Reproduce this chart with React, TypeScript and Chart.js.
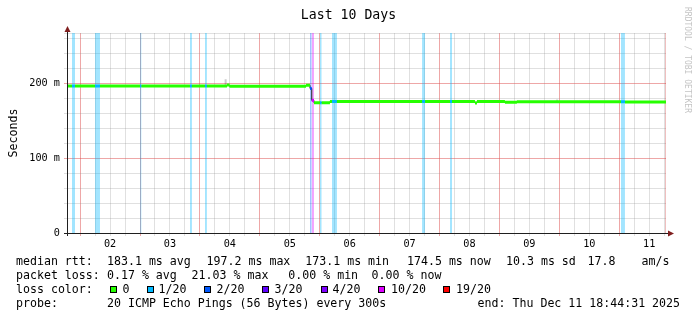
import React, { useEffect, useRef } from "react";
import { Chart, registerables } from "chart.js";

Chart.register(...registerables);

const FONT = "'DejaVu Sans Mono', monospace";

// ---- data -------------------------------------------------------------
// time axis: hours since Mon Dec 1 2025 00:00
const startHour = 18.742; // Dec 1 18:44:31
const endHour = 258.742; // Dec 11 18:44:31
const yMax = 266.67; // ms

const chartTitle = "Last 10 Days";
const yTitle = "Seconds";
const dayLabels = ["02", "03", "04", "05", "06", "07", "08", "09", "10", "11"];
const yLabelValues = [0, 100, 200];
const yLabels = ["0", "100 m", "200 m"];

// median rtt step series: segment start (hours), median (ms), lost pings of 20
const segStart = [
  18.742, 20.74, 21.95, 29.96, 31.96, 48.0, 48.6, 68.0, 68.8, 74.0, 74.8, 82.84,
  83.84, 114.5, 116.1, 116.8, 117.7, 120.1, 120.8, 124.1, 124.9, 126.9, 161.0,
  162.2, 172.2, 173.0, 182.2, 183.0, 194.2, 199.0, 240.7, 242.3,
];
const segMedian = [
  196.0, 196.0, 196.0, 196.0, 196.0, 196.0, 196.0, 196.0, 196.0, 196.0, 196.0,
  197.2, 195.8, 197.0, 192.8, 176.8, 173.8, 173.8, 173.8, 175.2, 175.2, 175.2,
  175.2, 175.2, 175.2, 175.2, 173.4, 175.2, 174.4, 175.1, 175.1, 174.8,
];
const segLoss = [
  0, 1, 0, 1, 0, 1, 0, 1, 0, 1, 0, 0, 0, 0, 2, 10, 0, 1, 0, 0, 1, 0, 1, 0, 1, 0,
  0, 0, 0, 0, 1, 0,
];

// smoke (ping spread) marks
const smokeHour = [82.3, 215.1];
const smokeLow = [196.0, 175.0];
const smokeHigh = [205.0, 177.9];

const lossLevels = [0, 1, 2, 3, 4, 10, 19];
const lossLabels = ["0", "1/20", "2/20", "3/20", "4/20", "10/20", "19/20"];
const lossColors = ["#26ff00", "#00b8ff", "#0059ff", "#5e00ff", "#7e00ff", "#dd00ff", "#ff0000"];

const rttTexts = ["median rtt:", "183.1 ms avg", "197.2 ms max", "173.1 ms min", "174.5 ms now", "10.3 ms sd", "17.8", "am/s"];
const lossTexts = ["packet loss:", "0.17 % avg", "21.03 % max", "0.00 % min", "0.00 % now"];
const probeTexts = ["probe:", "20 ICMP Echo Pings (56 Bytes) every 300s", "end: Thu Dec 11 18:44:31 2025"];
const lossColorTitle = "loss color:";
const watermark = "RRDTOOL / TOBI OETIKER";

// ---- layout (pixels) ---------------------------------------------------
const rttX = [16.7, 107.7, 207.3, 306, 407.7, 506.7, 588.3, 642.3];
const lossX = [16.7, 107.7, 192.3, 289, 372.3];
const probeX = [16.7, 107.7, 478.3];
const swatchX = [110, 146.7, 204.3, 262.3, 320.7, 378.3, 443.3];
const swatchTextX = [123.3, 159.3, 217.3, 275.3, 333.3, 391.7, 456.7];

const GREY = "rgba(143,143,143,0.28)";
const RED = "rgba(222,79,79,0.5)";

function rgba(hex: string, a: number) {
  const n = parseInt(hex.slice(1), 16);
  return `rgba(${(n >> 16) & 255},${(n >> 8) & 255},${n & 255},${a})`;
}

function segEnd(i: number) {
  return i + 1 < segStart.length ? segStart[i + 1] : endHour;
}

function buildDatasets() {
  const ds: any[] = [];
  // loss background stripes
  lossLevels.forEach((lvl, li) => {
    if (lvl === 0) return;
    const pts: any[] = [];
    segStart.forEach((s, i) => {
      if (segLoss[i] !== lvl) return;
      pts.push({ x: s, y: yMax }, { x: segEnd(i), y: yMax }, { x: segEnd(i), y: null });
    });
    if (!pts.length) return;
    ds.push({
      data: pts,
      fill: "origin",
      backgroundColor: rgba(lossColors[li], 0.36),
      borderColor: "rgba(0,0,0,0)",
      borderWidth: 0,
      pointRadius: 0,
      spanGaps: false,
      order: 10,
    });
  });
  // smoke
  const smoke: any[] = [];
  smokeHour.forEach((h, i) => {
    smoke.push({ x: h, y: smokeLow[i] }, { x: h, y: smokeHigh[i] }, { x: h, y: null });
  });
  ds.push({ data: smoke, borderColor: "rgba(0,0,0,0.2)", borderWidth: 2, pointRadius: 0, spanGaps: false, order: 6 });
  // end marker
  ds.push({
    data: [{ x: endHour, y: 0 }, { x: endHour, y: yMax }],
    borderColor: "rgba(200,40,40,0.6)",
    borderWidth: 1,
    pointRadius: 0,
    order: 5,
  });
  // thin median line
  const med: any[] = segStart.map((s, i) => ({ x: s, y: segMedian[i] }));
  med.push({ x: endHour, y: segMedian[segMedian.length - 1] });
  ds.push({ data: med, stepped: true, borderColor: "#202020", borderWidth: 1, pointRadius: 0, order: 3 });
  // loss coloured median
  lossLevels.forEach((lvl, li) => {
    const pts: any[] = [];
    segStart.forEach((s, i) => {
      if (segLoss[i] !== lvl) return;
      pts.push({ x: s, y: segMedian[i] }, { x: segEnd(i), y: segMedian[i] }, { x: segEnd(i), y: null });
    });
    if (!pts.length) return;
    ds.push({
      data: pts,
      borderColor: lossColors[li],
      borderWidth: 3,
      borderCapStyle: "butt",
      pointRadius: 0,
      spanGaps: false,
      order: 1,
    });
  });
  return ds;
}

const noonHours = dayLabels.map((_, i) => 36 + 24 * i);

const axesPlugin = {
  id: "rrdAxes",
  afterDatasetsDraw(chart: any) {
    const { ctx, chartArea } = chart;
    const { left, right, top, bottom } = chartArea;
    ctx.save();
    ctx.strokeStyle = "#1f1f1f";
    ctx.lineWidth = 1;
    ctx.beginPath();
    ctx.moveTo(left - 3, bottom + 0.5);
    ctx.lineTo(right + 4, bottom + 0.5);
    ctx.stroke();
    ctx.beginPath();
    ctx.moveTo(left + 0.5, bottom + 3);
    ctx.lineTo(left + 0.5, top - 3);
    ctx.stroke();
    ctx.fillStyle = "#801f1f";
    ctx.beginPath();
    ctx.moveTo(right + 2, bottom - 2.5);
    ctx.lineTo(right + 8, bottom + 0.5);
    ctx.lineTo(right + 2, bottom + 3.5);
    ctx.closePath();
    ctx.fill();
    ctx.beginPath();
    ctx.moveTo(left - 2.5, top - 1);
    ctx.lineTo(left + 0.5, top - 7);
    ctx.lineTo(left + 3.5, top - 1);
    ctx.closePath();
    ctx.fill();
    ctx.restore();
  },
};

export default function App() {
  const ref = useRef<HTMLCanvasElement>(null);
  useEffect(() => {
    const chart = new Chart(ref.current as HTMLCanvasElement, {
      type: "line",
      data: { datasets: buildDatasets() },
      options: {
        animation: false,
        responsive: false,
        devicePixelRatio: 1,
        events: [],
        layout: { padding: 0 },
        elements: { line: { tension: 0 }, point: { radius: 0 } },
        plugins: {
          legend: { display: false },
          tooltip: { enabled: false },
          title: {
            display: true,
            text: chartTitle,
            color: "#000",
            font: { family: FONT, size: 13.2, weight: "normal" },
            padding: { top: 7.5, bottom: 9.66 },
          },
        },
        scales: {
          x: {
            type: "linear",
            min: startHour,
            max: endHour,
            afterBuildTicks: (scale: any) => {
              const t: any[] = [];
              for (let h = Math.ceil(startHour / 6) * 6; h <= endHour; h += 6) t.push({ value: h });
              scale.ticks = t;
            },
            afterFit: (scale: any) => {
              scale.height = 88;
            },
            grid: {
              color: (c: any) => (c.tick && Math.round(c.tick.value) % 24 === 0 ? RED : GREY),
              lineWidth: 1,
              tickLength: 3,
            },
            border: { display: false },
            ticks: {
              autoSkip: false,
              maxRotation: 0,
              padding: 2,
              color: "#000",
              font: { family: FONT, size: 10.2 },
              callback: (v: any) => {
                const i = noonHours.indexOf(Number(v));
                return i >= 0 ? dayLabels[i] : "";
              },
            },
          },
          y: {
            type: "linear",
            min: 0,
            max: yMax,
            afterBuildTicks: (scale: any) => {
              const t: any[] = [];
              for (let v = 0; v < yMax; v += 20) t.push({ value: v });
              t.push({ value: yMax });
              scale.ticks = t;
            },
            afterFit: (scale: any) => {
              scale.width = 67;
            },
            grid: {
              color: (c: any) => {
                const v = c.tick ? c.tick.value : -1;
                if (v === 0) return "rgba(0,0,0,0)";
                return v % 100 === 0 ? RED : GREY;
              },
              lineWidth: 1,
              tickLength: 3,
            },
            border: { display: false },
            title: {
              display: true,
              text: yTitle,
              color: "#000",
              font: { family: FONT, size: 11.6 },
              padding: { top: 7.5, bottom: 0 },
            },
            ticks: {
              autoSkip: false,
              padding: 4,
              color: "#000",
              font: { family: FONT, size: 10.2 },
              callback: (v: any) => {
                const i = yLabelValues.indexOf(Number(v));
                return i >= 0 ? yLabels[i] : "";
              },
            },
          },
          y2: {
            position: "right",
            display: true,
            grid: { display: false },
            border: { display: false },
            ticks: { display: false },
            afterFit: (scale: any) => {
              scale.width = 31;
            },
          },
        },
      } as any,
      plugins: [axesPlugin],
    });
    return () => chart.destroy();
  }, []);

  const txt: React.CSSProperties = {
    position: "absolute",
    fontFamily: FONT,
    fontSize: "11.6px",
    lineHeight: "14px",
    color: "#000",
    whiteSpace: "pre",
  };
  const line = (texts: string[], xs: number[], top: number) =>
    texts.map((t, i) => (
      <span key={t + i} style={{ ...txt, left: xs[i] - 0.7, top }}>
        {t}
      </span>
    ));

  return (
    <div
      style={{
        position: "fixed",
        left: 0,
        top: 0,
        width: 697,
        height: 321,
        background: "#fff",
        overflow: "hidden",
      }}
    >
      <canvas
        ref={ref}
        width={697}
        height={321}
        style={{ position: "absolute", left: 0, top: 0, width: 697, height: 321 }}
      />
      {line(rttTexts, rttX, 254)}
      {line(lossTexts, lossX, 268)}
      <span style={{ ...txt, left: 16, top: 282 }}>{lossColorTitle}</span>
      {lossLabels.map((l, i) => (
        <React.Fragment key={l}>
          <span
            style={{
              position: "absolute",
              left: swatchX[i],
              top: 286,
              width: 7,
              height: 7,
              boxSizing: "border-box",
              border: "1px solid #000",
              background: lossColors[i],
            }}
          />
          <span style={{ ...txt, left: swatchTextX[i] - 0.7, top: 282 }}>{l}</span>
        </React.Fragment>
      ))}
      {line(probeTexts, probeX, 296)}
      <div
        style={{
          position: "absolute",
          left: 683,
          top: 7,
          writingMode: "vertical-rl",
          fontFamily: FONT,
          fontSize: "8px",
          lineHeight: "8px",
          color: "#c4c4c4",
          whiteSpace: "pre",
        }}
      >
        {watermark}
      </div>
    </div>
  );
}
